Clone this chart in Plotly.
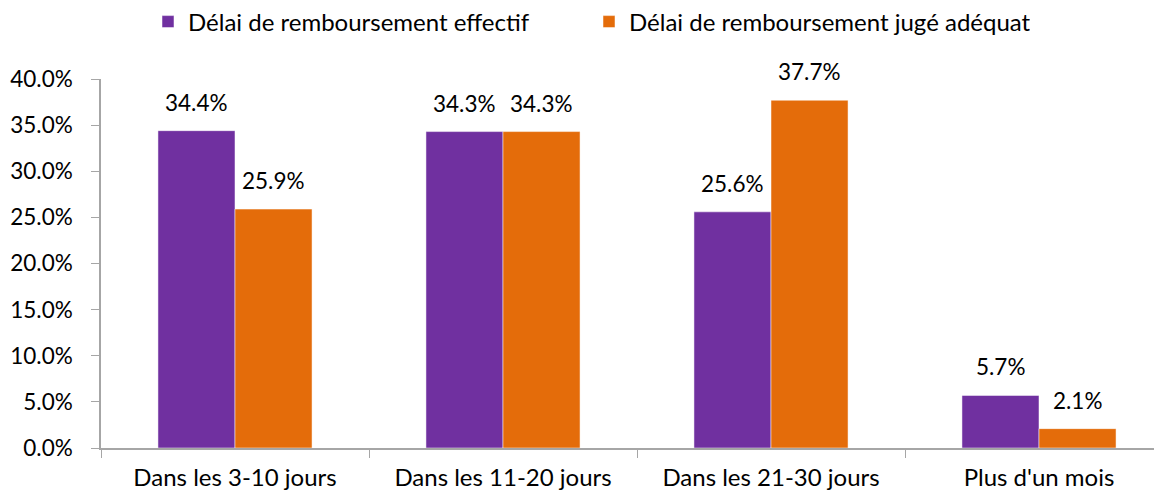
import plotly.graph_objects as go

categories = ["Dans les 3-10 jours", "Dans les 11-20 jours", "Dans les 21-30 jours", "Plus d'un mois"]
effectif = [34.4, 34.3, 25.6, 5.7]
adequat = [25.9, 34.3, 37.7, 2.1]
series_names = ["Délai de remboursement effectif", "Délai de remboursement jugé adéquat"]
colors = ["#7030A0", "#E46C0A"]
y_ticks = [0, 5, 10, 15, 20, 25, 30, 35, 40]

FONT = "Lato, Carlito, Calibri, sans-serif"
TEXT_SIZE = 24
NUM_SIZE = 22.5

fig = go.Figure()
for name, vals, col in zip(series_names, [effectif, adequat], colors):
    fig.add_trace(go.Bar(
        x=categories, y=vals, name=name,
        marker=dict(color=col, line=dict(color="white", width=0.5)),
        hoverinfo="x+y",
    ))

# page has an 8px body margin, compensate in figure margins
W, H = 1162, 492
ml, mr, mt, mb = 93, 8, 71, 52
plot_w = W - ml - mr
cat_px = 268
rng_w = plot_w / cat_px
bargap = 0.425
bar_w_px = cat_px * (1 - bargap) / 2

for i, vals in enumerate([effectif, adequat]):
    shift = (-0.5 if i == 0 else 0.5) * bar_w_px
    for c, v in zip(categories, vals):
        fig.add_annotation(
            x=c, y=v, xref="x", yref="y", text=f"{v:.1f}%",
            showarrow=False, xshift=shift, yshift=13, yanchor="bottom",
            font=dict(size=NUM_SIZE, color="#000000", family=FONT),
        )

fig.update_layout(
    width=W, height=H,
    margin=dict(l=ml, r=mr, t=mt, b=mb, autoexpand=False),
    barmode="group", bargap=bargap, bargroupgap=0,
    plot_bgcolor="white", paper_bgcolor="white",
    font=dict(family=FONT, size=TEXT_SIZE, color="#000000"),
    legend=dict(orientation="h", xref="container", x=140 / W, xanchor="left",
                yref="container", y=1 - 14 / H, yanchor="middle",
                font=dict(size=TEXT_SIZE, family=FONT, color="#000000"),
                itemwidth=30, entrywidth=396, traceorder="normal"),
    showlegend=True,
)
fig.update_xaxes(
    range=[-0.5, -0.5 + rng_w], showline=True, linecolor="#A6A6A6", linewidth=1.5,
    ticks="outside", tickson="boundaries", ticklen=8, tickcolor="#A6A6A6",
    tickfont=dict(size=TEXT_SIZE, family=FONT, color="#000000"), ticklabelstandoff=7,
    showgrid=False, zeroline=False,
)
fig.update_yaxes(
    range=[0, 40], tickvals=y_ticks, ticktext=[f"{t:.1f}%" for t in y_ticks],
    showline=True, linecolor="#A6A6A6", linewidth=1.5,
    ticks="outside", ticklen=8, tickcolor="#A6A6A6",
    tickfont=dict(size=NUM_SIZE, family=FONT, color="#000000"), ticklabelstandoff=14,
    showgrid=False, zeroline=False,
)

fig.write_html("out.html")
